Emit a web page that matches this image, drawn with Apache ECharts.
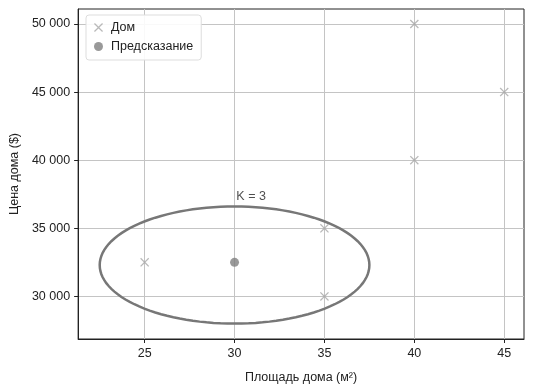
<!DOCTYPE html>
<html><head><meta charset="utf-8">
<script src="https://cdn.jsdelivr.net/npm/echarts@6/dist/echarts.min.js"></script>
<style>html,body{margin:0;padding:0;background:#fff}#c{width:536px;height:389px}</style>
</head><body><div id="c"></div>
<script>
const houseArea = [25, 35, 35, 40, 40, 45];
const housePrice = [32500, 35000, 30000, 50000, 40000, 45000];
const predArea = [30];
const predPrice = [32500];
const xTicks = [25, 30, 35, 40, 45];
const yTicks = [30000, 35000, 40000, 45000, 50000];
const ellipseCenter = [30, 32300];
const ellipseRadii = [7.5, 4300];
const kLabel = 'K = 3';
const kLabelPos = [30.1, 37300];

const FONT = 'Liberation Sans';
const crossPath = 'path://M0,1L1,0L5,4L9,0L10,1L6,5L10,9L9,10L5,6L1,10L0,9L4,5Z';
const fmt = v => String(v).replace(/\B(?=(\d{3})+(?!\d))/g, ' ');

const chart = echarts.init(document.getElementById('c'), null, {renderer: 'canvas'});
chart.setOption({
  animation: false,
  textStyle: {fontFamily: FONT},
  grid: {left: 78, top: 9, right: 12, bottom: 48, show: true, borderColor: '#222', borderWidth: 1},
  legend: {
    orient: 'vertical', left: 86, top: 15, itemWidth: 9, itemHeight: 9, itemGap: 6,
    padding: [6, 8, 7, 8], borderColor: '#ddd', borderWidth: 1, borderRadius: 3,
    backgroundColor: 'rgba(255,255,255,0.9)',
    textStyle: {fontFamily: FONT, fontSize: 12.5, color: '#222', padding: [0, 0, 0, 3]},
    data: [{name: 'Дом', icon: crossPath}, {name: 'Предсказание', icon: 'circle'}]
  },
  xAxis: {
    type: 'value', min: 21.3, max: 46.1,
    name: 'Площадь дома (м²)', nameLocation: 'middle', nameGap: 32,
    nameTextStyle: {fontFamily: FONT, fontSize: 12.5, color: '#222'},
    axisLine: {show: true, onZero: false, lineStyle: {color: '#222'}},
    axisTick: {show: true, length: 4, customValues: xTicks, lineStyle: {color: '#222'}},
    axisLabel: {customValues: xTicks, margin: 8, fontSize: 12.5, color: '#222', fontFamily: FONT},
    splitLine: {show: true, lineStyle: {color: '#c4c4c4', width: 1}}
  },
  yAxis: {
    type: 'value', min: 26871, max: 51101,
    name: 'Цена дома ($)', nameLocation: 'middle', nameGap: 56, nameRotate: 90,
    nameTextStyle: {fontFamily: FONT, fontSize: 12.5, color: '#222'},
    axisLine: {show: true, onZero: false, lineStyle: {color: '#222'}},
    axisTick: {show: true, length: 4, customValues: yTicks, lineStyle: {color: '#222'}},
    axisLabel: {customValues: yTicks, margin: 8, fontSize: 12.5, color: '#222', fontFamily: FONT, formatter: fmt},
    splitLine: {show: true, lineStyle: {color: '#c4c4c4', width: 1}}
  },
  series: [
    {
      type: 'custom', silent: true, z: 3,
      renderItem: function (params, api) {
        const pts = [];
        for (let i = 0; i < 120; i++) {
          const t = i / 120 * Math.PI * 2;
          pts.push(api.coord([ellipseCenter[0] + ellipseRadii[0] * Math.cos(t),
                              ellipseCenter[1] + ellipseRadii[1] * Math.sin(t)]));
        }
        return {type: 'polygon', shape: {points: pts}, style: {fill: 'none', stroke: '#777', lineWidth: 2.5}};
      },
      data: [[ellipseCenter[0], ellipseCenter[1]]]
    },
    {
      name: 'Дом', type: 'scatter', symbol: crossPath, symbolSize: 9, z: 4,
      itemStyle: {color: '#a8a8a8'},
      data: houseArea.map((x, i) => [x, housePrice[i]])
    },
    {
      name: 'Предсказание', type: 'scatter', symbol: 'circle', symbolSize: 9, z: 4,
      itemStyle: {color: '#808080'},
      data: predArea.map((x, i) => [x, predPrice[i]])
    },
    {
      type: 'scatter', symbolSize: 0, silent: true, z: 5,
      label: {show: true, position: 'right', distance: 0, formatter: kLabel, fontSize: 12.5, color: '#222', fontFamily: FONT},
      data: [kLabelPos]
    }
  ]
});
</script></body></html>
